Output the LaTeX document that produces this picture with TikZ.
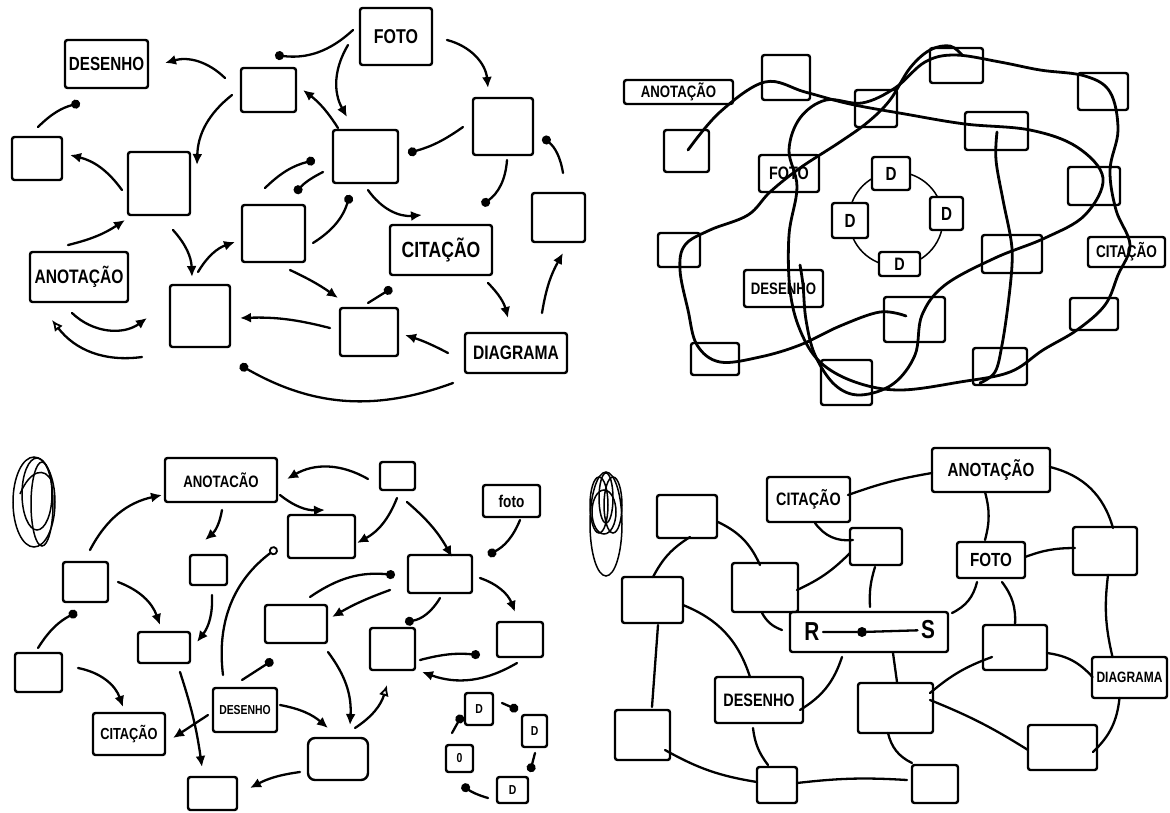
\documentclass[tikz,border=0pt]{standalone}
\usepackage{fontspec}
\setmainfont{Liberation Sans}[FakeStretch=0.8]
\usetikzlibrary{arrows.meta,calc}
\newcommand\fs[1]{\fontsize{#1}{#1}\selectfont\bfseries}
\newcommand\bx[7][]{\node[box,minimum width={(#5)-(#3)},minimum height={(#6)-(#4)},#1] (#2) at ({((#3)+(#5))/2},{((#4)+(#6))/2}) {#7};}
\begin{document}
\begin{tikzpicture}[x=1pt,y=-1pt,
  box/.style={draw, line width=2.4pt, rounded corners=2.5pt, inner sep=0pt, outer sep=0pt, align=center},
  ar/.style={line width=2.3pt, line cap=round, -{Latex[length=11pt,width=10pt]}},
  ad/.style={line width=2.3pt, line cap=round, -{Circle[length=9pt]}},
  ao/.style={line width=2.3pt, line cap=round, -{Latex[open,length=11pt,width=10pt,line width=1.8pt]}},
  ar0/.style={line width=2.3pt, line cap=round, -{Circle[open,length=9pt,width=9pt,line width=1.8pt]}},
  ln/.style={line width=2.3pt, line cap=round},
  tc/.style={line width=2.8pt, line cap=round, line join=round},
  sc/.style={line width=1.5pt}]
\useasboundingbox (0,0) rectangle (1170,812);
\fill[white] (0,0) rectangle (1170,812);

% ================= TOP LEFT =================
\bx[font=\fs{19}]{tDes}{65}{40}{148}{88}{DESENHO}
\bx{tA}{241}{68}{296}{112}{}
\bx{tC}{12}{137}{62}{180}{}
\bx{tB}{128}{152}{190}{215}{}
\bx[font=\fs{20}]{tFoto}{360}{8}{432}{65}{FOTO}
\bx{tD}{333}{130}{398}{183}{}
\bx{tE}{473}{98}{533}{155}{}
\bx{tF}{532}{193}{585}{242}{}
\bx{tG}{242}{205}{305}{262}{}
\bx[font=\fs{22}]{tCit}{390}{225}{492}{275}{CITAÇÃO}
\bx{tH}{340}{308}{398}{356}{}
\bx[font=\fs{19.5}]{tDia}{465}{333}{567}{373}{DIAGRAMA}
\bx{tI}{170}{285}{230}{347}{}
\bx[font=\fs{19.5}]{tAno}{30}{252}{128}{302}{ANOTAÇÃO}

\draw[ar] ($(tA)+(-43.5,-12)$) to[bend right=30] ($(tDes)+(58.5,-1)$);
\draw[ar] ($(tA)+(-36.5,5)$) to[bend right=25] ($(tB)+(38,-18.5)$);
\draw[ad] ($(tC)+(1,-31.5)$) to[bend left=15] ($(tDes)+(-26.5,39)$);
\draw[ar] ($(tB)+(-37,6.5)$) to[bend right=20] ($(tC)+(33,-3.5)$);
\draw[ad] ($(tFoto)+(-43,-6.5)$) to[bend left=25] ($(tA)+(6.5,-35)$);
\draw[ar] ($(tFoto)+(-48,8.5)$) to[bend right=30] ($(tD)+(-18.5,-39.5)$);
\draw[ar] ($(tD)+(-27.5,-28.5)$) to[bend right=10] ($(tA)+(34.5,0)$);
\draw[ar] ($(tFoto)+(51,3.5)$) to[bend left=35] ($(tE)+(-15,-38.5)$);
\draw[ad] ($(tE)+(-40,0.5)$) to[bend left=10] ($(tD)+(42.5,-3.5)$);
\draw[ad] ($(tE)+(4,33.5)$) to[bend left=25] ($(tCit)+(41,-45)$);
\draw[ad] ($(tF)+(4.5,-44.5)$) to[bend right=20] ($(tE)+(40,10.5)$);
\draw[ad] ($(tG)+(-8.5,-45.5)$) to[bend left=15] ($(tD)+(-50.5,3.5)$);
\draw[ad] ($(tD)+(-42.5,15.5)$) to[bend right=10] ($(tG)+(21.5,-40.5)$);
\draw[ad] ($(tG)+(39.5,9.5)$) to[bend right=20] ($(tD)+(-15.5,38.5)$);
\draw[ar] ($(tD)+(2.5,33.5)$) to[bend right=30] ($(tCit)+(-19,-35)$);
\draw[ad] ($(tH)+(-1,-29)$) -- ($(tCit)+(-49,38)$);
\draw[ar] ($(tG)+(16.5,36.5)$) to[bend left=5] ($(tH)+(-31,-34)$);
\draw[ar] ($(tCit)+(47,33)$) to[bend left=15] ($(tDia)+(-8,-35)$);
\draw[ar] ($(tDia)+(26,-40)$) to[bend left=10] ($(tF)+(4.5,35.5)$);
\draw[ar] ($(tDia)+(-68,0)$) to[bend right=5] ($(tH)+(36,3)$);
\draw[ad] ($(tDia)+(-63,30)$) to[bend left=25] ($(tI)+(40,49)$);
\draw[ar] ($(tH)+(-39,-4)$) to[bend right=8] ($(tI)+(40,2)$);
\draw[ar] ($(tB)+(14,46.5)$) to[bend left=20] ($(tI)+(-8,-39)$);
\draw[ar] ($(tI)+(-2,-44)$) to[bend left=20] ($(tG)+(-38.5,8.5)$);
\draw[ar] ($(tAno)+(-11,-32)$) to[bend right=10] ($(tB)+(-34,36.5)$);
\draw[ar] ($(tAno)+(-7,36)$) to[bend right=40] ($(tI)+(-53,2)$);
\draw[ao] ($(tI)+(-58,41)$) to[bend left=30] ($(tAno)+(-27,43)$);

% ================= TOP RIGHT =================
\draw[line width=1.5pt] (896,219) circle[radius=47];
\bx[fill=white,font=\fs{19}]{rDt}{872}{157}{910}{190}{D}
\bx[fill=white,font=\fs{19}]{rDl}{832}{203}{868}{238}{D}
\bx[fill=white,font=\fs{19}]{rDr}{930}{197}{963}{230}{D}
\bx[fill=white,font=\fs{18}]{rDb}{879}{252}{920}{276}{D}
\bx[font=\fs{16.5}]{rAno}{624}{80}{733}{104}{ANOTAÇÃO}
\bx{r1}{762}{55}{810}{100}{}
\bx{r2}{664}{130}{709}{172}{}
\bx{r3}{855}{90}{897}{127}{}
\bx{r4}{930}{48}{983}{83}{}
\bx{r5}{1078}{73}{1128}{110}{}
\bx{r6}{965}{112}{1028}{150}{}
\bx[font=\fs{18}]{rFoto}{759}{155}{819}{192}{FOTO}
\bx{r7}{1068}{167}{1120}{205}{}
\bx{r12}{658}{233}{700}{267}{}
\bx{r8}{982}{235}{1042}{273}{}
\bx[font=\fs{17}]{rCit}{1088}{237}{1165}{267}{CITAÇÃO}
\bx[font=\fs{16.5}]{rDes}{744}{270}{823}{307}{DESENHO}
\bx{r10}{884}{297}{945}{342}{}
\bx{r9}{1070}{298}{1118}{330}{}
\bx{r13}{691}{343}{739}{375}{}
\bx{r11}{973}{348}{1027}{385}{}
\bx{r14}{821}{360}{872}{405}{}

\draw[tc] plot[smooth,tension=0.6] coordinates {(688,150) (720,112) (765,82) (805,92) (850,104) (905,114) (965,124) (1030,130) (1077,147) (1103,178) (1085,215) (1045,238) (995,258) (945,285) (922,315) (915,355) (893,384) (860,395) (835,385) (815,355) (806,320) (803,285) (800,265)};
\draw[tc] plot[smooth cycle,tension=0.6] coordinates {(797,187) (789,150) (800,118) (826,100) (862,103) (895,88) (925,62) (955,55) (1000,62) (1040,70) (1085,76) (1110,92) (1118,130) (1110,170) (1116,210) (1130,245) (1118,275) (1105,305) (1077,330) (1043,350) (1010,372) (960,382) (900,390) (855,382) (820,362) (800,330) (790,290) (789,235)};
\draw[tc] plot[smooth,tension=0.6] coordinates {(906,316) (880,312) (840,326) (800,345) (760,357) (720,362) (697,345) (688,310) (680,270) (685,245) (710,230) (748,215) (770,192) (800,168) (840,142) (868,122) (890,100) (910,68) (930,50) (950,46) (962,55)};
\draw[tc] plot[smooth,tension=0.6] coordinates {(997,132) (996,160) (1003,200) (1011,240) (1012,265) (1008,305) (1002,345) (995,372) (980,383)};

% ================= BOTTOM LEFT =================
\draw[sc] (34,502) ellipse[x radius=21,y radius=45];
\draw[sc] (42,504) ellipse[x radius=11,y radius=42];
\draw[sc] (37,494) ellipse[x radius=15,y radius=36];
\draw[sc] (20,494) .. controls (30,470) and (45,466) .. (52,482);

\bx[font=\fs{16.5}]{bAno}{165}{458}{277}{502}{ANOTACÃO}
\bx{bJ}{63}{562}{108}{602}{}
\bx{bK}{190}{555}{227}{585}{}
\bx{bM}{380}{462}{415}{490}{}
\bx{bN}{288}{515}{355}{558}{}
\bx{bO}{408}{555}{472}{593}{}
\bx[font=\fs{17}]{bFoto}{483}{485}{540}{517}{foto}
\bx{bP}{497}{622}{543}{657}{}
\bx{bV}{265}{605}{327}{643}{}
\bx{bX}{370}{628}{415}{670}{}
\bx[rounded corners=7pt]{bW}{308}{738}{368}{780}{}
\bx{bS}{15}{653}{62}{692}{}
\bx{bT}{138}{632}{190}{663}{}
\bx[font=\fs{16}]{bCit}{93}{713}{165}{755}{CITAÇÃO}
\bx[font=\fs{13}]{bDes}{213}{688}{277}{732}{DESENHO}
\bx{bU}{188}{777}{237}{810}{}
\bx[font=\fs{13}]{bD1}{465}{693}{493}{725}{D}
\bx[font=\fs{13}]{bD2}{522}{715}{547}{747}{D}
\bx[font=\fs{13}]{bD3}{446}{745}{473}{772}{0}
\bx[font=\fs{13}]{bD4}{497}{777}{528}{803}{D}
\coordinate (ring) at (277,548);

\draw[ar] ($(bJ)+(4.5,-32)$) to[bend left=25] ($(bAno)+(-59,15)$);
\draw[ar] ($(bAno)+(1,30)$) to[bend left=20] ($(bK)+(-3.5,-30)$);
\draw[ar] ($(bM)+(-29.5,3)$) to[bend right=30] ($(bAno)+(66,-1)$);
\draw[ar] ($(bAno)+(59,15)$) to[bend right=20] ($(bN)+(3.5,-26.5)$);
\draw[ar] ($(bM)+(-0.5,22)$) to[bend left=20] ($(bN)+(35.5,6.5)$);
\draw[ar] ($(bM)+(9.5,26)$) to[bend left=10] ($(bO)+(12,-17)$);
\draw[ad] ($(bFoto)+(8.5,19)$) to[bend left=20] ($(bO)+(48,-19)$);
\draw[ar] ($(bO)+(40,4)$) to[bend left=25] ($(bP)+(-5,-27.5)$);
\draw[ad] ($(bV)+(14,-27)$) to[bend left=20] ($(bO)+(-45,1)$);
\draw[ar] ($(bO)+(-50,16)$) to[bend right=5] ($(bV)+(36,-7)$);
\draw[ad] ($(bO)+(0,24)$) to[bend left=25] ($(bX)+(12.5,-27)$);
\draw[ad] ($(bS)+(-0.5,-24.5)$) to[bend left=15] ($(bJ)+(-8.5,30)$);
\draw[ar] ($(bS)+(39.5,-4.5)$) to[bend left=30] ($(bCit)+(-6,-27)$);
\draw[ar] ($(bJ)+(32.5,0)$) to[bend left=25] ($(bT)+(-4,-22.5)$);
\draw[ar] ($(bK)+(3.5,25)$) to[bend left=20] ($(bT)+(33,-5.5)$);
\draw[ar] ($(bT)+(16,24.5)$) to[bend left=5] ($(bU)+(-10.5,-26.5)$);
\draw[ar] ($(bDes)+(-37,5)$) -- ($(bCit)+(44,4)$);
\draw[ar0] ($(bDes)+(-22,-35)$) to[bend left=30] (ring);
\draw[ad] ($(bDes)+(-3,-30)$) -- ($(bV)+(-23,36)$);
\draw[ar] ($(bW)+(-38,13)$) to[bend right=10] ($(bU)+(37.5,-5.5)$);
\draw[ar] ($(bDes)+(35,-5)$) to[bend left=15] ($(bW)+(-10,-31)$);
\draw[ar] ($(bV)+(32,28)$) to[bend left=20] ($(bW)+(12,-34)$);
\draw[ao] ($(bW)+(17,-31)$) to[bend right=20] ($(bX)+(-5.5,36)$);
\draw[ad] ($(bX)+(27.5,11)$) to[bend left=10] ($(bP)+(-40,15.5)$);
\draw[ar] ($(bP)+(-3,23.5)$) to[bend left=25] ($(bX)+(29.5,23)$);
\draw[ad] ($(bD1)+(23,-6)$) -- ($(bD2)+(-16.5,-21)$);
\draw[ad] ($(bD2)+(0.5,22)$) -- ($(bD4)+(17.5,-18)$);
\draw[ad] ($(bD4)+(-24.5,8)$) to[bend left=10] ($(bD3)+(2.5,26.5)$);
\draw[ad] ($(bD3)+(-7.5,-25.5)$) -- ($(bD1)+(-17,6)$);

% ================= BOTTOM RIGHT =================
\draw[sc] (606,524) ellipse[x radius=16,y radius=52];
\draw[sc] (599,505) ellipse[x radius=9,y radius=28];
\draw[sc] (613,505) ellipse[x radius=9,y radius=28];
\draw[sc] (606,498) ellipse[x radius=7,y radius=25];
\draw[sc] (604,512) ellipse[x radius=12,y radius=22];

\bx{gBr1}{657}{495}{717}{538}{}
\bx[font=\fs{18}]{gCit}{767}{477}{850}{522}{CITAÇÃO}
\bx{gBr2}{622}{577}{683}{623}{}
\bx{gBr3}{732}{563}{798}{612}{}
\bx{gBr4}{850}{528}{902}{565}{}
\bx{gRS}{790}{612}{948}{652}{}
\node[font=\fs{26}] (gR) at (812,632) {R};
\node[font=\fs{26}] (gS) at (928,630) {S};
\node[circle,fill,inner sep=0pt,minimum size=10pt] (gdot) at (862,632) {};
\draw[ln] (gR) -- (gdot) -- (gS);
\bx[font=\fs{18}]{gDes}{715}{677}{803}{723}{DESENHO}
\bx{gBr5}{615}{710}{670}{760}{}
\bx{gBr6}{757}{767}{797}{803}{}
\bx{gBr7}{858}{683}{933}{733}{}
\bx[font=\fs{19}]{gAno}{932}{448}{1050}{492}{ANOTAÇÃO}
\bx[font=\fs{19}]{gFoto}{957}{542}{1025}{578}{FOTO}
\bx{gBr8}{1073}{527}{1137}{575}{}
\bx{gBr9}{983}{625}{1047}{670}{}
\bx[font=\fs{15}]{gDia}{1092}{657}{1167}{698}{DIAGRAMA}
\bx{gBr10}{1028}{725}{1097}{770}{}
\bx{gBr11}{912}{765}{958}{803}{}

\draw[ln] ($(gCit)+(39.5,-4.5)$) to[bend left=5] ($(gAno)+(-59,3)$);
\draw[ln] ($(gCit)+(6.5,23.5)$) to[bend right=30] ($(gBr4)+(-23,-6.5)$);
\draw[ln] ($(gBr1)+(3,20.5)$) to[bend right=15] ($(gBr2)+(0.5,-23)$);
\draw[ln] ($(gBr1)+(31,5.5)$) to[bend left=20] ($(gBr3)+(-5,-22.5)$);
\draw[ln] ($(gBr4)+(-26,6.5)$) to[bend left=10] ($(gBr3)+(32,2.5)$);
\draw[ln] ($(gBr3)+(-3,25.5)$) to[bend right=20] ($(gRS)+(-87,-2)$);
\draw[ln] ($(gBr2)+(30.5,5)$) to[bend left=25] ($(gDes)+(-9,-23)$);
\draw[ln] ($(gBr2)+(5.5,25)$) -- ($(gBr5)+(9.5,-28)$);
\draw[ln] ($(gRS)+(-27,25)$) to[bend left=20] ($(gDes)+(41,10)$);
\draw[ln] ($(gBr5)+(22.5,15)$) to[bend right=10] ($(gBr6)+(-20,-3)$);
\draw[ln] ($(gDes)+(-6,28)$) to[bend right=15] ($(gBr6)+(-9,-20)$);
\draw[ln] ($(gBr6)+(20,-2)$) to[bend left=5] ($(gBr11)+(-28,-4)$);
\draw[ln] ($(gBr4)+(-1,20.5)$) to[bend right=10] ($(gRS)+(1,-25)$);
\draw[ln] ($(gAno)+(-6,22)$) to[bend left=15] ($(gFoto)+(-6,-20)$);
\draw[ln] ($(gAno)+(59,-3)$) to[bend left=30] ($(gBr8)+(8,-23)$);
\draw[ln] ($(gFoto)+(34,-3)$) to[bend left=10] ($(gBr8)+(-30,-3)$);
\draw[ln] ($(gFoto)+(-14,22)$) to[bend left=25] ($(gRS)+(83,-19)$);
\draw[ln] ($(gFoto)+(11,22)$) to[bend left=20] ($(gBr9)+(0,-22.5)$);
\draw[ln] ($(gBr8)+(3,24)$) to[bend right=10] ($(gDia)+(-17,-20.5)$);
\draw[ln] ($(gBr9)+(32,5.5)$) to[bend left=20] ($(gDia)+(-37,-0.5)$);
\draw[ln] ($(gBr9)+(-23,9.5)$) to[bend right=10] ($(gBr7)+(34.5,-15)$);
\draw[ln] ($(gBr7)+(34.5,-8)$) to[bend left=5] ($(gBr10)+(-34.5,2.5)$);
\draw[ln] ($(gDia)+(-10,20.5)$) to[bend left=20] ($(gBr10)+(30.5,4.5)$);
\draw[ln] ($(gRS)+(24,21)$) -- ($(gBr7)+(1.5,-26)$);
\draw[ln] ($(gBr7)+(-7.5,25)$) to[bend right=25] ($(gBr11)+(-23,-21)$);
\end{tikzpicture}
\end{document}
